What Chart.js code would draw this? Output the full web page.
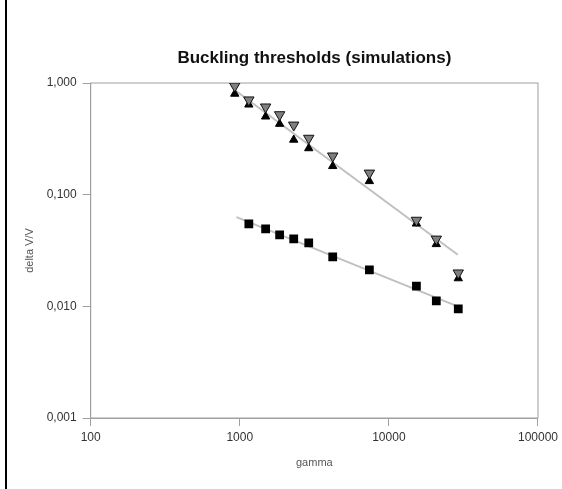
<!DOCTYPE html>
<html>
<head>
<meta charset="utf-8">
<script src="https://cdn.jsdelivr.net/npm/chart.js@4.4.1/dist/chart.umd.min.js"></script>
<style>
  html, body { margin: 0; padding: 0; background: #fff; }
  #wrap { position: relative; width: 562px; height: 489px; }
  #frame { position: absolute; left: 5px; top: 0; width: 2px; height: 489px; background: #000; }
</style>
</head>
<body>
<div id="wrap">
  <canvas id="chart" width="562" height="489"></canvas>
  <div id="frame"></div>
</div>
<script>
// values (log-log)
const gammaTri = [925, 1150, 1490, 1850, 2300, 2900, 4200, 7400, 15300, 20800, 29200];
const deltaDown = [0.94, 0.705, 0.61, 0.52, 0.42, 0.32, 0.222, 0.156, 0.059, 0.040, 0.0199];
const deltaUp = [0.80, 0.64, 0.50, 0.43, 0.31, 0.26, 0.18, 0.132, 0.055, 0.036, 0.0178];
const gammaSq = [1150, 1490, 1850, 2300, 2900, 4200, 7400, 15300, 20800, 29200];
const deltaSq = [0.0547, 0.0493, 0.0436, 0.0401, 0.037, 0.0277, 0.0212, 0.0152, 0.0112, 0.0095];

// trend line end points
const triTrendX = [920, 29000];
const triTrendY = [0.87, 0.029];
const sqTrendX = [950, 29500];
const sqTrendY = [0.063, 0.0099];

const xTicks = [100, 1000, 10000, 100000];
const yTicks = [0.001, 0.01, 0.1, 1];

const axisGrey = '#a0a0a0';
const labelColor = '#333';

function pts(xs, ys) {
    return xs.map((x, i) => ({ x: x, y: ys[i] }));
}

const plotBorder = {
    id: 'plotBorder',
    beforeDatasetsDraw(chart) {
        const { ctx, chartArea: a } = chart;
        ctx.save();
        ctx.strokeStyle = axisGrey;
        ctx.lineWidth = 1;
        ctx.strokeRect(a.left, a.top, a.right - a.left, a.bottom - a.top);
        ctx.restore();
    }
};

new Chart(document.getElementById('chart'), {
    type: 'scatter',
    data: {
        datasets: [
            {
                label: 'down',
                data: pts(gammaTri, deltaDown),
                pointStyle: 'triangle',
                rotation: 180,
                pointRadius: 6,
                backgroundColor: '#7f7f7f',
                borderColor: '#111',
                borderWidth: 1,
                order: 1
            },
            {
                label: 'up',
                data: pts(gammaTri, deltaUp),
                pointStyle: 'triangle',
                pointRadius: 4.8,
                backgroundColor: '#000',
                borderColor: '#000',
                borderWidth: 1,
                order: 2
            },
            {
                label: 'squares',
                data: pts(gammaSq, deltaSq),
                pointStyle: 'rect',
                pointRadius: 6.2,
                backgroundColor: '#000',
                borderColor: '#000',
                borderWidth: 0,
                order: 3
            },
            {
                label: 'trend tri',
                data: pts(triTrendX, triTrendY),
                showLine: true,
                pointRadius: 0,
                borderColor: '#c0c0c0',
                borderWidth: 2,
                order: 4
            },
            {
                label: 'trend sq',
                data: pts(sqTrendX, sqTrendY),
                showLine: true,
                pointRadius: 0,
                borderColor: '#c0c0c0',
                borderWidth: 2,
                order: 5
            }
        ]
    },
    options: {
        responsive: false,
        animation: false,
        layout: { padding: { left: 0, right: 23, top: 0, bottom: 0 } },
        plugins: {
            legend: { display: false },
            tooltip: { enabled: false },
            title: {
                display: true,
                fullSize: false,
                text: 'Buckling thresholds (simulations)',
                color: '#111',
                font: { family: 'Liberation Sans', size: 17 },
                padding: { top: 48, bottom: 14.6 }
            }
        },
        scales: {
            x: {
                type: 'logarithmic',
                min: 100,
                max: 100000,
                afterBuildTicks(scale) {
                    scale.ticks = xTicks.map((v) => ({ value: v }));
                },
                afterFit(scale) {
                    scale.height = 71;
                },
                ticks: {
                    color: labelColor,
                    padding: 4,
                    maxRotation: 0,
                    font: { family: 'Liberation Sans', size: 12 },
                    callback(v) {
                        return String(v);
                    }
                },
                grid: {
                    drawOnChartArea: false,
                    drawTicks: true,
                    tickLength: 8,
                    color: axisGrey
                },
                border: { display: true, color: axisGrey },
                title: {
                    display: true,
                    text: 'gamma',
                    color: '#555',
                    font: { family: 'Liberation Sans', size: 11 },
                    padding: { top: 0, bottom: 19.4 }
                }
            },
            y: {
                type: 'logarithmic',
                min: 0.001,
                max: 1,
                afterBuildTicks(scale) {
                    scale.ticks = yTicks.map((v) => ({ value: v }));
                },
                afterFit(scale) {
                    scale.width = 90.7;
                },
                ticks: {
                    color: labelColor,
                    padding: 6,
                    font: { family: 'Liberation Sans', size: 12 },
                    callback(v) {
                        return Number(v).toFixed(3).replace('.', ',');
                    }
                },
                grid: {
                    drawOnChartArea: false,
                    drawTicks: true,
                    tickLength: 8,
                    color: axisGrey
                },
                border: { display: true, color: axisGrey },
                title: {
                    display: true,
                    text: 'delta V/V',
                    color: '#555',
                    font: { family: 'Liberation Sans', size: 11 },
                    padding: { top: 23.4, bottom: 0 }
                }
            }
        }
    },
    plugins: [plotBorder]
});
</script>
</body>
</html>
